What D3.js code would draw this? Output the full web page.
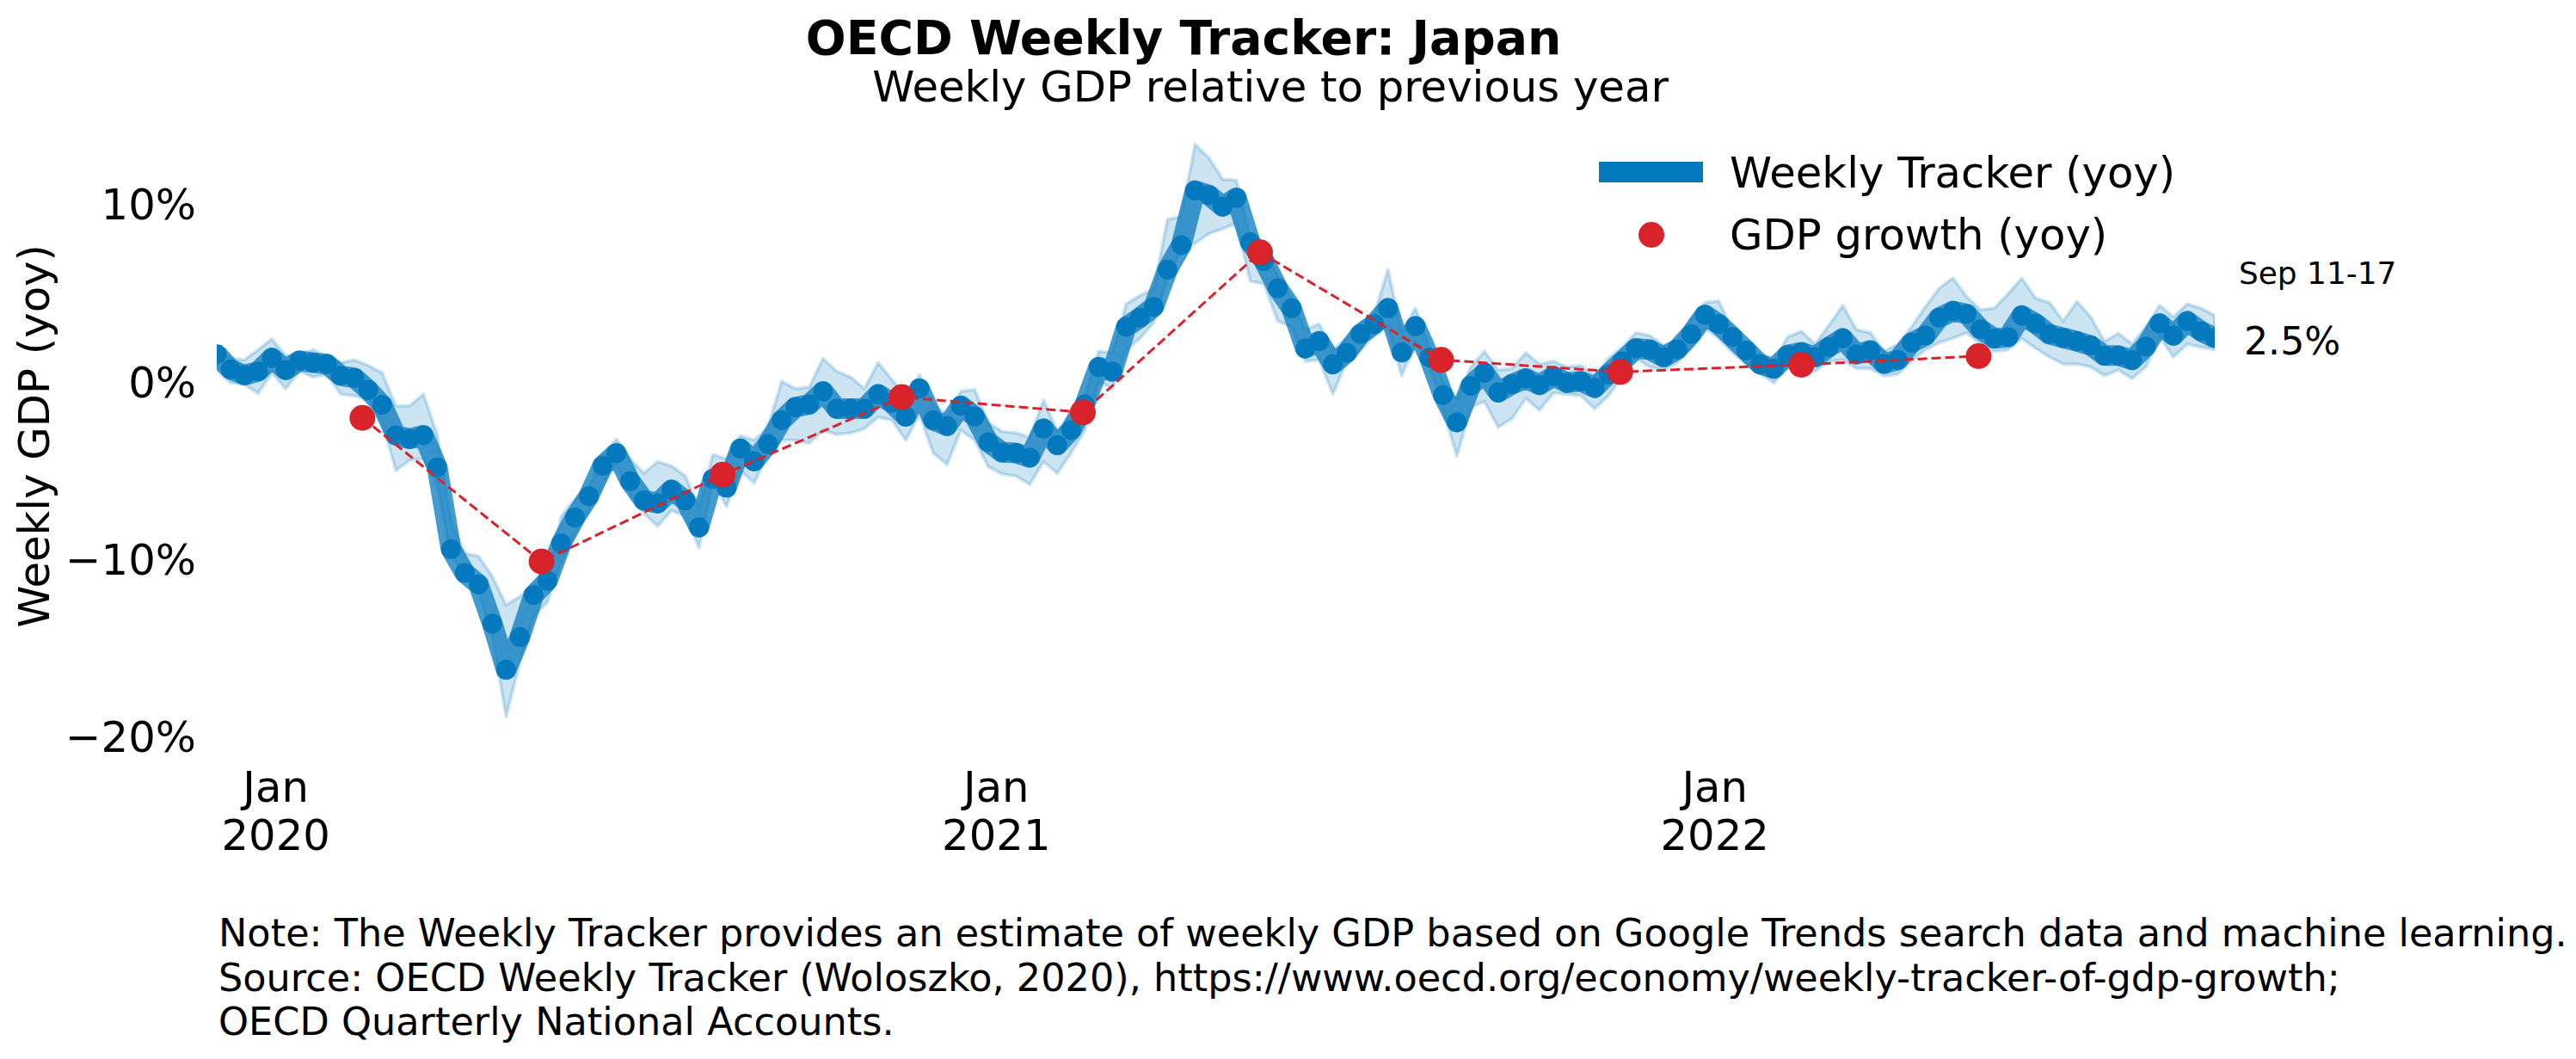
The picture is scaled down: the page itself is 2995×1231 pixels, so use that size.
<!DOCTYPE html>
<html><head><meta charset="utf-8">
<script src="https://cdn.jsdelivr.net/npm/d3@7"></script>
<style>html,body{margin:0;padding:0;background:#fff;} svg{display:block;font-family:"DejaVu Sans",sans-serif;}</style>
</head><body><div id="chart"></div>
<script>
// ---- DATA ----
const weeklyStart = "2019-12-02";   // first weekly observation; one point per week
const trackerValues = [1.59,0.74,0.41,0.62,1.38,0.70,1.22,1.11,1.03,0.38,0.25,-0.43,-1.27,-2.98,-3.18,-2.98,-4.79,-9.40,-10.74,-11.39,
-13.6,-16.19,-14.36,-11.99,-11.18,-9.08,-7.62,-6.41,-4.7,-4.0,-5.57,-6.65,-6.81,-6.05,-6.65,-8.16,-5.44,-5.92,-3.74,-4.44,
-3.47,-2.13,-1.40,-1.24,-0.51,-1.48,-1.48,-1.48,-0.67,-1.16,-1.92,-0.35,-2.13,-2.45,-1.32,-1.92,-3.37,-3.94,-3.98,-4.23,
-2.61,-3.53,-2.69,-1.24,0.86,0.62,3.13,3.65,4.26,6.36,7.74,10.81,10.56,9.92,10.40,7.9,6.85,5.31,4.18,1.92,
2.32,1.03,1.67,2.73,3.29,4.18,1.70,3.16,1.4,-0.72,-2.24,-0.19,0.54,-0.56,-0.10,0.22,-0.14,0.35,-0.02,0.06,
-0.30,0.46,1.19,1.92,1.84,1.43,1.87,2.72,3.81,3.29,2.56,1.80,1.03,0.78,1.54,1.70,1.43,2.00,2.48,1.59,
1.80,1.06,1.27,2.24,2.64,3.65,4.02,3.86,3.00,2.48,2.56,3.77,3.32,2.72,2.51,2.32,2.08,1.51,1.51,1.27,
2.03,3.32,2.64,3.45,2.89,2.50];
const trackerUpper = [2.0,1.35,1.27,1.84,2.45,1.51,1.59,1.84,1.43,1.11,1.27,0.95,0.54,-1.32,-1.32,-0.67,-2.93,-7.86,-9.64,-9.80,
-10.94,-12.55,-12.07,-11.42,-10.94,-7.54,-6.57,-5.93,-4.15,-3.2,-4.31,-5.12,-4.47,-4.71,-5.28,-7.06,-4.07,-4.31,-3.01,-3.26,
-2.53,0.06,-0.35,-0.27,1.35,0.62,0.30,-0.35,1.11,0.14,-0.75,0.41,-1.24,-1.88,-0.51,-0.40,-2.29,-2.77,-2.85,-3.1,
-1.0,-2.77,-1.72,-0.75,1.75,1.67,4.42,4.9,5.23,9.19,9.35,13.41,12.66,11.45,11.40,8.14,7.49,6.04,4.74,2.97,
3.29,1.83,2.48,3.29,3.86,6.36,2.80,4.18,1.99,0.06,-0.91,0.87,1.75,0.70,0.78,1.67,1.03,1.19,0.87,0.95,
0.38,1.35,1.99,2.80,2.64,2.08,2.40,3.61,4.50,4.58,2.97,2.16,1.51,1.19,2.56,2.88,2.16,3.21,4.34,2.97,
2.80,1.75,2.16,3.13,4.26,5.31,5.88,4.83,4.10,4.18,4.99,5.88,4.74,4.50,3.45,4.55,3.69,2.32,2.77,2.16,
3.13,4.34,3.69,4.42,4.18,3.77];
const trackerLower = [0.70,-0.02,-0.11,-0.62,0.54,-0.35,0.62,0.30,0.46,-0.67,-0.75,-1.0,-2.21,-4.96,-4.39,-4.31,-5.76,-9.80,-10.77,-11.74,
-14.33,-18.86,-15.79,-13.2,-12.39,-10.13,-8.51,-7.22,-5.8,-4.63,-6.25,-7.38,-8.11,-7.22,-7.54,-9.32,-5.6,-6.98,-4.96,-5.68,
-3.99,-3.26,-3.26,-3.42,-2.69,-2.93,-2.85,-2.61,-1.96,-2.13,-3.26,-1.8,-3.99,-4.63,-2.69,-3.26,-4.76,-5.16,-5.28,-5.76,
-4.47,-5.12,-3.98,-2.69,0.06,-0.35,1.83,2.48,3.37,5.88,7.49,7.84,8.38,8.66,8.98,5.71,5.55,3.45,3.13,1.19,
1.27,-0.67,1.19,1.83,2.64,3.13,0.38,2.24,1.03,-1.56,-4.15,-1.40,-1.08,-2.53,-2.04,-0.91,-1.56,-0.59,-0.67,-0.75,
-1.48,-0.75,0.30,1.35,0.87,0.70,1.11,1.92,3.05,2.48,1.67,1.03,0.54,-0.02,0.87,1.11,0.62,1.19,1.27,0.78,
0.78,0.38,0.46,1.19,1.84,2.24,2.48,2.80,2.16,1.75,1.84,2.48,1.92,1.43,1.03,1.03,0.87,0.38,0.70,0.22,
0.87,2.56,1.43,2.16,1.99,1.84];
const gdpDates = ["2020-02-14","2020-05-15","2020-08-15","2020-11-14","2021-02-14","2021-05-15","2021-08-15","2021-11-14","2022-02-14","2022-05-15"];
const gdpValues = [-2.0,-10.1,-5.2,-0.83,-1.69,7.33,1.27,0.59,1.0,1.48];
const yTickValues = [10,0,-10,-20];
const xTickDates = ["2020-01-01","2021-01-01","2022-01-01"];
const xTickLabels = [["Jan","2020"],["Jan","2021"],["Jan","2022"]];
const lastWeekLabel = "Sep 11-17";
const legendLabels = ["Weekly Tracker (yoy)","GDP growth (yoy)"];
const titleText = "OECD Weekly Tracker: Japan";
const subtitleText = "Weekly GDP relative to previous year";
const yAxisLabel = "Weekly GDP (yoy)";
const noteLines = ["Note: The Weekly Tracker provides an estimate of weekly GDP based on Google Trends search data and machine learning.",
"Source: OECD Weekly Tracker (Woloszko, 2020), https://www.oecd.org/economy/weekly-tracker-of-gdp-growth;",
"OECD Quarterly National Accounts."];

// ---- CHART ----
const W = 2995, H = 1231;
const BLUE = "#0579be", RED = "#d9232a";
const FS = 49.7;
const parse = d3.timeParse("%Y-%m-%d");
const start = parse(weeklyStart);
const weekly = trackerValues.map((v,i)=>({date:d3.timeDay.offset(start,7*i), v, hi:trackerUpper[i], lo:trackerLower[i]}));
const gdp = gdpDates.map((d,i)=>({date:parse(d), v:gdpValues[i]}));

const x = d3.scaleTime().domain([weekly[0].date, weekly[weekly.length-1].date]).range([252, 2575]);
const y = d3.scaleLinear().domain([-20,10]).range([856.9, 238.3]);

const svg = d3.select("#chart").append("svg").attr("width",W).attr("height",H);
svg.append("rect").attr("width",W).attr("height",H).attr("fill","#fff");

svg.append("defs").append("clipPath").attr("id","clip")
  .append("rect").attr("x",x.range()[0]).attr("y",0).attr("width",x.range()[1]-x.range()[0]).attr("height",H);

const plot = svg.append("g").attr("clip-path","url(#clip)");

plot.append("path").datum(weekly)
  .attr("d", d3.area().x(d=>x(d.date)).y0(d=>y(d.lo)).y1(d=>y(d.hi)))
  .attr("fill",BLUE).attr("fill-opacity",0.2)
  .attr("stroke",BLUE).attr("stroke-opacity",0.2).attr("stroke-width",4).attr("stroke-linejoin","round");

plot.append("path").datum(weekly)
  .attr("d", d3.line().x(d=>x(d.date)).y(d=>y(d.v)))
  .attr("fill","none").attr("stroke",BLUE).attr("stroke-opacity",0.75)
  .attr("stroke-width",24).attr("stroke-linejoin","round");

plot.selectAll("circle.wk").data(weekly).join("circle").attr("class","wk")
  .attr("cx",d=>x(d.date)).attr("cy",d=>y(d.v)).attr("r",11.5).attr("fill",BLUE);

svg.append("path").datum(gdp)
  .attr("d", d3.line().x(d=>x(d.date)).y(d=>y(d.v)))
  .attr("fill","none").attr("stroke",RED).attr("stroke-width",3).attr("stroke-dasharray","11 5");

svg.selectAll("circle.gdp").data(gdp).join("circle").attr("class","gdp")
  .attr("cx",d=>x(d.date)).attr("cy",d=>y(d.v)).attr("r",15).attr("fill",RED);

// y axis tick labels
svg.append("g").selectAll("text").data(yTickValues).join("text")
  .attr("x",228).attr("y",d=>y(d)).attr("text-anchor","end").attr("dominant-baseline","central")
  .attr("font-size",FS).attr("fill","#000")
  .text(d=> (d<0?"\u2212":"") + Math.abs(d) + "%");

// x axis tick labels
const xt = svg.append("g").selectAll("text").data(xTickDates).join("text")
  .attr("text-anchor","middle").attr("font-size",FS).attr("fill","#000");
xt.append("tspan").attr("x",d=>x(parse(d))).attr("y",932).text((d,i)=>xTickLabels[i][0]);
xt.append("tspan").attr("x",d=>x(parse(d))).attr("y",988).text((d,i)=>xTickLabels[i][1]);

// y axis label
svg.append("text").attr("transform","translate(57,507) rotate(-90)")
  .attr("text-anchor","middle").attr("font-size",FS).attr("fill","#000").text(yAxisLabel);

// titles
svg.append("text").attr("x",1376).attr("y",63).attr("text-anchor","middle")
  .attr("font-size",55.2).attr("font-weight","bold").attr("fill","#000").text(titleText);
svg.append("text").attr("x",1477).attr("y",118).attr("text-anchor","middle")
  .attr("font-size",FS).attr("fill","#000").text(subtitleText);

// legend
svg.append("rect").attr("x",1859).attr("y",188).attr("width",121).attr("height",24).attr("fill",BLUE);
svg.append("circle").attr("cx",1920).attr("cy",273).attr("r",15).attr("fill",RED);
svg.append("text").attr("x",2011).attr("y",218).attr("font-size",FS).attr("fill","#000").text(legendLabels[0]);
svg.append("text").attr("x",2011).attr("y",290).attr("font-size",FS).attr("fill","#000").text(legendLabels[1]);

// last value annotation
const last = weekly[weekly.length-1];
svg.append("text").attr("x",x(last.date)+28).attr("y",y(last.v)-63)
  .attr("font-size",35.9).attr("fill","#000").text(lastWeekLabel);
svg.append("text").attr("x",x(last.date)+34).attr("y",y(last.v)+19)
  .attr("font-size",44.2).attr("fill","#000").text(d3.format(".1f")(last.v)+"%");

// notes
svg.append("g").selectAll("text").data(noteLines).join("text")
  .attr("x",254).attr("y",(d,i)=>1100+i*51.5).attr("font-size",44.6).attr("fill","#000").text(d=>d);
</script>
</body></html>
